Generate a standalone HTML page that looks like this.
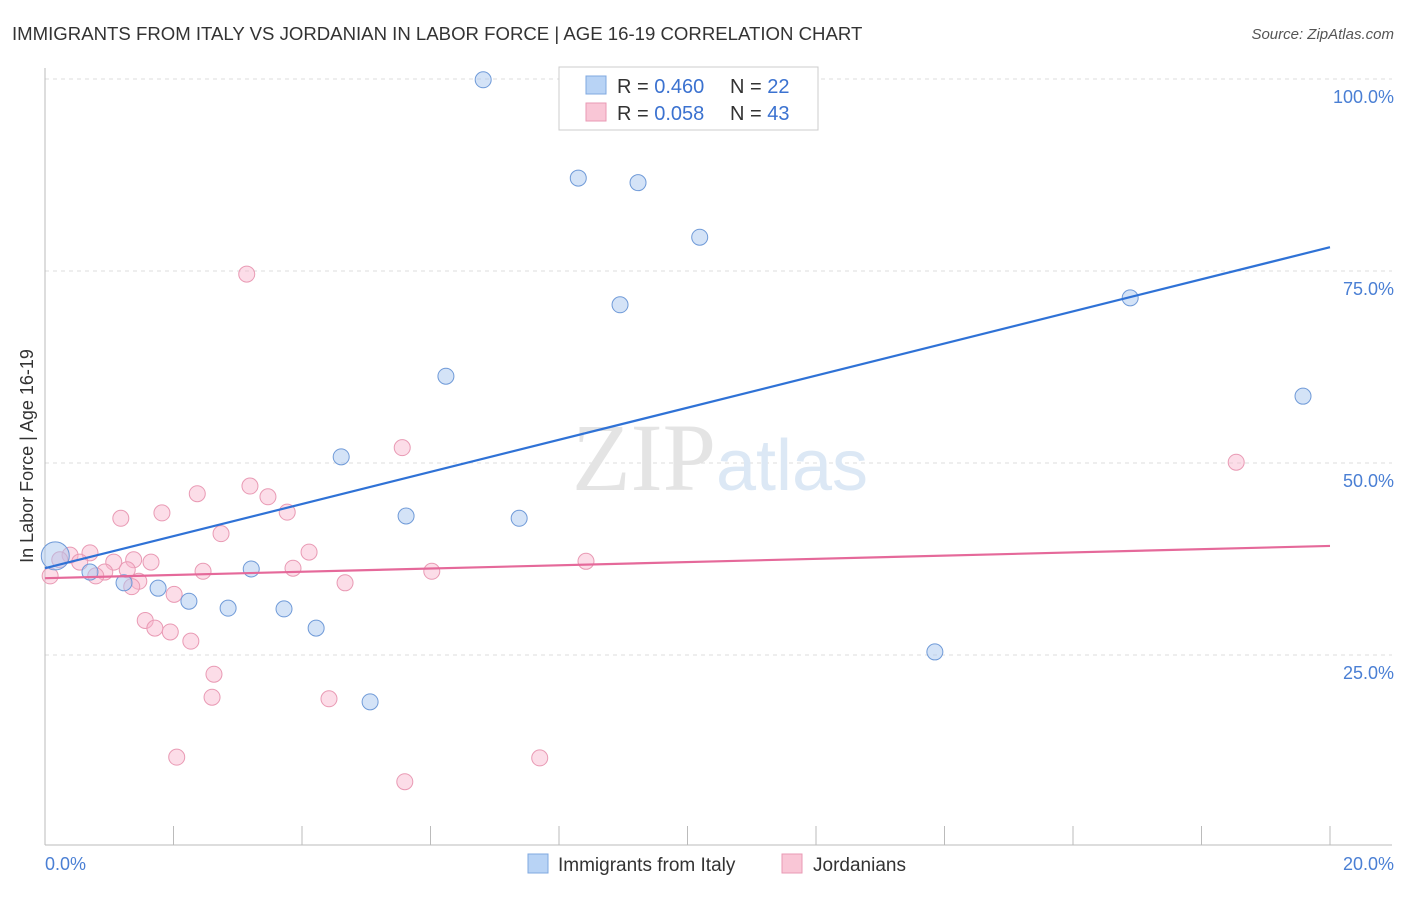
<!DOCTYPE html>
<html><head><meta charset="utf-8"><style>
body{margin:0;background:#fff;font-family:"Liberation Sans",sans-serif}
</style></head><body>
<svg width="1406" height="892" viewBox="0 0 1406 892" xmlns="http://www.w3.org/2000/svg" font-family="Liberation Sans, sans-serif">
<text x="12" y="40" font-size="18.6" fill="#333">IMMIGRANTS FROM ITALY VS JORDANIAN IN LABOR FORCE | AGE 16-19 CORRELATION CHART</text>
<text x="1394" y="39" font-size="15" fill="#555" font-style="italic" text-anchor="end">Source: ZipAtlas.com</text>
<g id="grid"></g>
<text x="720" y="490" font-size="96" text-anchor="middle" fill="#e4e4e4" font-family="Liberation Serif, serif">ZIP<tspan fill="#dce8f5" font-family="Liberation Sans, sans-serif" font-size="72">atlas</tspan></text>
<line x1="45" y1="68" x2="45" y2="845" stroke="#bbb"/>
<line x1="45" y1="845" x2="1392" y2="845" stroke="#bbb"/>
<g id="ticks"></g>
<g id="ylabels"></g>
<text x="45" y="870" font-size="18" fill="#4a7fd4">0.0%</text>
<text x="1394" y="870" font-size="18" fill="#4a7fd4" text-anchor="end">20.0%</text>
<text transform="translate(33,456) rotate(-90)" font-size="18" fill="#333" text-anchor="middle">In Labor Force | Age 16-19</text>
<g id="pink"></g>
<g id="blue"></g>
<g id="lines"></g>
<g>
<rect x="559" y="67" width="259" height="63" fill="#fff" stroke="#ccc"/>
<rect x="586" y="76" width="20" height="18" fill="#b8d3f5" stroke="#7fa8e0"/>
<rect x="586" y="103" width="20" height="18" fill="#f9c6d6" stroke="#e99ab4"/>
<text x="617" y="93" font-size="20" fill="#333">R = <tspan fill="#3b72d0">0.460</tspan></text>
<text x="730" y="93" font-size="20" fill="#333">N = <tspan fill="#3b72d0">22</tspan></text>
<text x="617" y="120" font-size="20" fill="#333">R = <tspan fill="#3b72d0">0.058</tspan></text>
<text x="730" y="120" font-size="20" fill="#333">N = <tspan fill="#3b72d0">43</tspan></text>
</g>
<g>
<rect x="528" y="854" width="20" height="19" fill="#b8d3f5" stroke="#7fa8e0"/>
<text x="558" y="871" font-size="19" fill="#333">Immigrants from Italy</text>
<rect x="782" y="854" width="20" height="19" fill="#f9c6d6" stroke="#e99ab4"/>
<text x="813" y="871" font-size="19" fill="#333">Jordanians</text>
</g>
</svg>
<script>
const yTicks=[25,50,75,100];
const yTickLabels=["25.0%","50.0%","75.0%","100.0%"];
const xTicks=[0,2,4,6,8,10,12,14,16,18,20];
const italyX=[6.82,8.30,9.23,10.19,8.95,16.89,19.58,6.24,4.61,5.62,7.38,3.21,2.24,2.85,3.72,4.22,5.06,13.85,1.76,1.23,0.70,0.16];
const italyY=[99.9,87.1,86.5,79.4,70.6,71.5,58.7,61.3,50.8,43.1,42.8,36.2,32.0,31.1,31.0,28.5,18.9,25.4,33.7,34.4,35.8,37.9];
const jordX=[3.14,5.56,18.54,3.19,2.37,3.47,1.82,3.77,1.18,2.74,4.11,8.42,1.65,0.70,0.39,1.07,1.38,1.28,2.46,3.86,6.02,0.93,0.79,1.46,1.35,4.67,2.01,1.56,1.71,1.95,2.27,2.63,2.60,4.42,2.05,7.70,5.60,0.08,0.23,0.54];
const jordY=[74.6,52.0,50.1,47.0,46.0,45.6,43.5,43.6,42.8,40.8,38.4,37.2,37.1,38.3,38.0,37.1,37.4,36.1,35.9,36.3,35.9,35.8,35.3,34.6,33.9,34.4,32.9,29.5,28.5,28.0,26.8,22.5,19.5,19.3,11.7,11.6,8.5,35.3,37.4,37.1];
const italyTrend=[36.3,78.1];
const jordTrend=[35.0,39.2];
const NS="http://www.w3.org/2000/svg";
const X=v=>45+v/20*1285, Y=v=>847-v*7.68;
function mk(t,a,p){const e=document.createElementNS(NS,t);for(const k in a)e.setAttribute(k,a[k]);p.appendChild(e);return e;}
const grid=document.getElementById('grid'),yl=document.getElementById('ylabels');
yTicks.forEach((t,i)=>{const l=mk('line',{x1:45,x2:1392,y1:Y(t),y2:Y(t),stroke:'#ddd','stroke-dasharray':'4,4'},grid);

const tx=mk('text',{x:1394,y:Y(t)+24,'font-size':18,fill:'#4a7fd4','text-anchor':'end'},yl);tx.textContent=yTickLabels[i];
});
const tk=document.getElementById('ticks');
xTicks.forEach(t=>{const l=mk('line',{x1:X(t),x2:X(t),y1:826,y2:845,stroke:'#bbb'},tk);
});
const pg=document.getElementById('pink');
jordX.forEach((x,i)=>{const c=mk('circle',{cx:X(x),cy:Y(jordY[i]),r:8,fill:'rgba(248,180,204,0.45)',stroke:'#e99ab4','stroke-width':1},pg);
});
const bg=document.getElementById('blue');
italyX.forEach((x,i)=>{const c=mk('circle',{cx:X(x),cy:Y(italyY[i]),r:i==italyX.length-1?14:8,fill:'rgba(170,200,240,0.5)',stroke:'#6f9ad8','stroke-width':1},bg);
});
const lg=document.getElementById('lines');
const l1=mk('line',{x1:X(0),x2:X(20),y1:Y(italyTrend[0]),y2:Y(italyTrend[1]),stroke:'#2f72d6','stroke-width':2.2},lg);

const l2=mk('line',{x1:X(0),x2:X(20),y1:Y(jordTrend[0]),y2:Y(jordTrend[1]),stroke:'#e5699a','stroke-width':2.2},lg);

</script>
</body></html>
